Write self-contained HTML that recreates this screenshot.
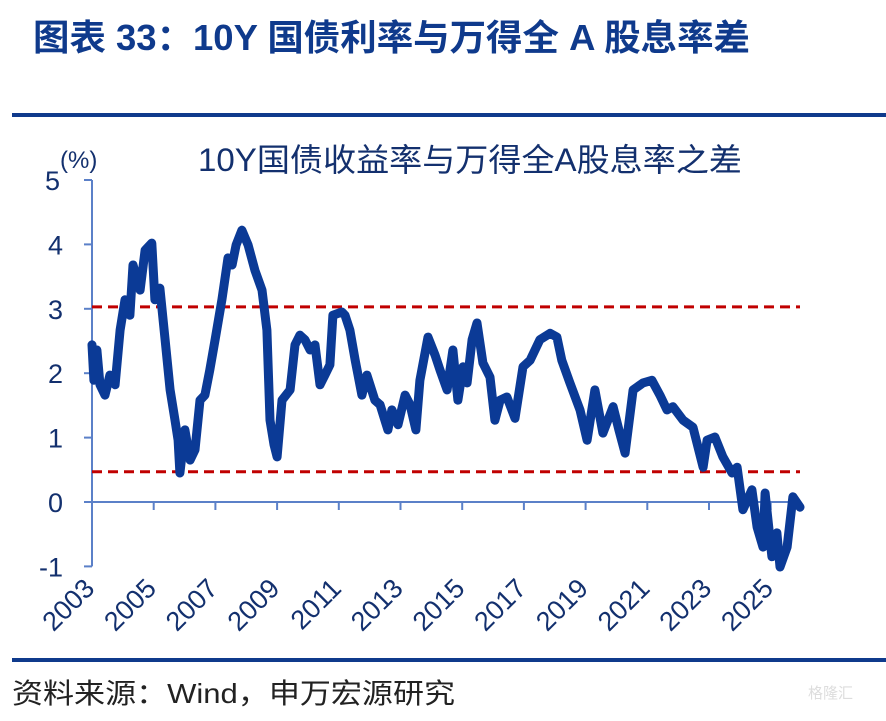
<!DOCTYPE html>
<html><head><meta charset="utf-8"><style>
body{margin:0;background:#fff;width:886px;height:716px;overflow:hidden;font-family:"Liberation Sans","Noto Sans CJK SC",sans-serif;}
</style></head><body>
<svg width="886" height="716" xmlns="http://www.w3.org/2000/svg">
<text x="33" y="50" font-size="36" font-weight="bold" fill="#0f3a8c" textLength="717" lengthAdjust="spacingAndGlyphs" font-family="Liberation Sans, Noto Sans CJK SC, sans-serif">图表 33：10Y 国债利率与万得全 A 股息率差</text>
<rect x="12" y="113" width="874" height="4" fill="#0f3a8c"/>
<text x="198" y="171" font-size="32" fill="#13306e" textLength="544" lengthAdjust="spacingAndGlyphs" font-family="Liberation Sans, Noto Sans CJK SC, sans-serif">10Y国债收益率与万得全A股息率之差</text>
<text x="60" y="168" font-size="24" fill="#13306e">(%)</text>
<g id="axes"></g>
<g id="marks"></g>
<rect x="12" y="658" width="874" height="4" fill="#0f3a8c"/>
<text x="12" y="703" font-size="28" fill="#222" textLength="443" lengthAdjust="spacingAndGlyphs" font-family="Liberation Sans, Noto Sans CJK SC, sans-serif">资料来源：Wind，申万宏源研究</text>
<text x="808" y="698" font-size="15" fill="#ddd" font-family="Liberation Sans, Noto Sans CJK SC, sans-serif">格隆汇</text>
</svg>
<script>
const years=[2003.00,2003.06,2003.16,2003.26,2003.42,2003.58,2003.75,2003.91,2004.07,2004.23,2004.33,2004.56,2004.72,2004.94,2005.04,2005.20,2005.37,2005.53,2005.69,2005.79,2005.85,2006.01,2006.18,2006.34,2006.50,2006.66,2006.82,2006.99,2007.21,2007.41,2007.54,2007.67,2007.86,2008.06,2008.28,2008.51,2008.67,2008.77,2008.90,2009.00,2009.16,2009.42,2009.58,2009.74,2009.90,2010.07,2010.23,2010.39,2010.55,2010.71,2010.81,2011.10,2011.20,2011.36,2011.53,2011.75,2011.91,2012.17,2012.34,2012.59,2012.72,2012.92,2013.15,2013.31,2013.50,2013.63,2013.89,2014.12,2014.28,2014.51,2014.70,2014.86,2015.03,2015.16,2015.32,2015.48,2015.67,2015.90,2016.06,2016.23,2016.45,2016.71,2016.97,2017.20,2017.52,2017.85,2018.07,2018.23,2018.49,2018.82,2019.05,2019.30,2019.56,2019.89,2020.08,2020.28,2020.54,2020.86,2021.15,2021.41,2021.64,2021.83,2022.16,2022.48,2022.81,2022.94,2023.19,2023.45,2023.75,2023.91,2024.10,2024.39,2024.56,2024.75,2024.82,2025.04,2025.20,2025.30,2025.53,2025.72,2025.95];
const spread=[2.44,1.89,2.36,1.82,1.66,1.97,1.82,2.67,3.14,2.90,3.68,3.29,3.91,4.02,3.14,3.32,2.52,1.74,1.27,0.96,0.45,1.12,0.65,0.81,1.58,1.66,2.05,2.52,3.14,3.79,3.68,3.99,4.22,3.99,3.60,3.29,2.67,1.27,0.89,0.70,1.58,1.74,2.44,2.59,2.52,2.36,2.44,1.82,1.97,2.13,2.90,2.95,2.90,2.67,2.20,1.66,1.97,1.58,1.51,1.12,1.43,1.20,1.66,1.51,1.12,1.89,2.56,2.28,2.05,1.74,2.36,1.58,2.10,1.85,2.52,2.78,2.16,1.94,1.27,1.58,1.63,1.30,2.10,2.20,2.52,2.62,2.56,2.20,1.85,1.43,0.96,1.74,1.07,1.48,1.12,0.76,1.74,1.85,1.89,1.66,1.43,1.48,1.27,1.16,0.54,0.96,1.01,0.70,0.45,0.54,-0.12,0.19,-0.39,-0.70,0.14,-0.85,-0.48,-1.01,-0.70,0.08,-0.08];
const refLines=[3.03,0.47];
const yTicks=[-1,0,1,2,3,4,5];
const xTickLabels=[2003,2005,2007,2009,2011,2013,2015,2017,2019,2021,2023,2025];
const NS="http://www.w3.org/2000/svg";
function xs(y){return 92+(y-2003)*30.85;}
function ys(v){return 502-v*64.4;}
function mk(t,a,p){const e=document.createElementNS(NS,t);for(const k in a)e.setAttribute(k,a[k]);p.appendChild(e);return e;}
const ax=document.getElementById('axes'),mg=document.getElementById('marks');
let e=mk('line',{x1:92,y1:ys(5),x2:92,y2:ys(-1),stroke:'#5b80c8','stroke-width':2},ax);


yTicks.forEach(v=>{
 let t=mk('line',{x1:84,y1:ys(v),x2:92,y2:ys(v),stroke:'#5b80c8','stroke-width':2},ax);
 
 
 let l=mk('text',{x:v==5?60:63,y:ys(v)+10,'font-size':27,fill:'#13306e','text-anchor':'end'},ax);l.textContent=v;
 
 
});
e=mk('line',{x1:92,y1:ys(0),x2:800,y2:ys(0),stroke:'#5b80c8','stroke-width':2},ax);


xTickLabels.forEach(yr=>{
 const x=xs(yr);
 let t=mk('line',{x1:x,y1:ys(0),x2:x,y2:ys(0)+8,stroke:'#5b80c8','stroke-width':2},ax);
 
 
 let l=mk('text',{x:x+4,y:590,'font-size':27,fill:'#13306e','text-anchor':'end',transform:`rotate(-45 ${x+4} 590)`},ax);l.textContent=yr;
 
 
});
refLines.forEach(v=>{
 let r=mk('line',{x1:92,y1:ys(v),x2:800,y2:ys(v),stroke:'#c00000','stroke-width':3,'stroke-dasharray':'10 6'},mg);
 
 
});
let d=years.map((y,i)=>(i?'L':'M')+xs(y).toFixed(1)+','+ys(spread[i]).toFixed(1)).join('');
let p=mk('path',{d:d,fill:'none',stroke:'#0b3a96','stroke-width':9,'stroke-linejoin':'round','stroke-linecap':'round'},mg);


</script>
</body></html>
